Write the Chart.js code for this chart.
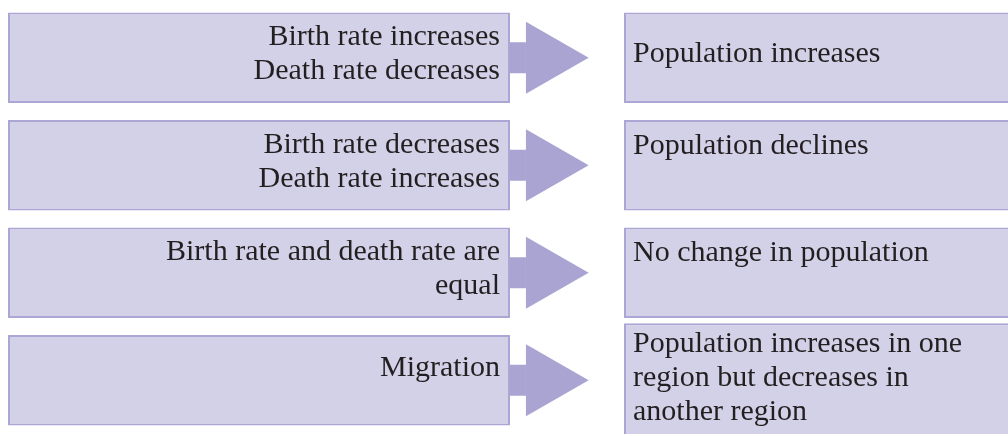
<!DOCTYPE html>
<html>
<head>
<meta charset="utf-8">
<script src="https://cdn.jsdelivr.net/npm/chart.js@4/dist/chart.umd.min.js"></script>
<style>
  html, body { margin: 0; padding: 0; background: #ffffff; }
  #wrap { width: 1008px; height: 436px; position: relative; }
</style>
</head>
<body>
<div id="wrap"><canvas id="chart"></canvas></div>
<script>
// Causes (left column) and results (right column), one row each
const rows = ['birthUp', 'birthDown', 'equal', 'migration'];
const causes = [
    ['Birth rate increases', 'Death rate decreases'],
    ['Birth rate decreases', 'Death rate increases'],
    ['Birth rate and death rate are', 'equal'],
    ['Migration']
];
const results = [
    ['Population increases'],
    ['Population declines'],
    ['No change in population'],
    ['Population increases in one', 'region but decreases in', 'another region']
];
// box spans on the 0..1008 horizontal axis
const causeSpan = [8, 510];
const resultSpan = [624, 1014];

const FILL = '#d3d1e8';
const EDGE = '#aca6d5';
const ARROW = '#a9a4d2';
const INK = '#231f20';

const last = rows.length - 1;

// result box for row i (the last one sits in its own, taller dataset)
function resultBar(chart, i) {
    return chart.getDatasetMeta(i === last ? 2 : 1).data[i];
}

// draws the arrows and the box text on top of the bars
const diagramPlugin = {
    id: 'diagram',
    afterDatasetsDraw(chart) {
        const ctx = chart.ctx;
        const left = chart.getDatasetMeta(0).data;
        ctx.save();

        left.forEach((bar, i) => {
            const r = resultBar(chart, i);
            const y = bar.y;
            const x0 = bar.x;             // right edge of cause box
            const x1 = r.base;            // left edge of result box
            const gap = x1 - x0;
            const shaftEnd = x0 + gap * 0.14;
            const tip = x0 + gap * 0.69;
            ctx.fillStyle = ARROW;
            ctx.fillRect(x0, y - 15.5, shaftEnd - x0, 31);
            ctx.beginPath();
            ctx.moveTo(shaftEnd, y - 36);
            ctx.lineTo(tip, y);
            ctx.lineTo(shaftEnd, y + 36);
            ctx.closePath();
            ctx.fill();
        });

        ctx.font = '30px "Liberation Serif", "Times New Roman", serif';
        ctx.fillStyle = INK;
        ctx.textBaseline = 'middle';
        const lh = 34;

        left.forEach((bar, i) => {
            const lines = causes[i];
            const top = bar.y - bar.height / 2;
            const y0 = lines.length > 1 ? top + 25 : top + 33;
            ctx.textAlign = 'right';
            lines.forEach((t, k) => ctx.fillText(t, bar.x - 10, y0 + k * lh));
        });

        results.forEach((lines, i) => {
            const bar = resultBar(chart, i);
            const top = bar.y - bar.height / 2;
            let y0 = i === 0 ? bar.y - 4 : top + 26;
            if (lines.length > 2) y0 = top + 21;
            ctx.textAlign = 'left';
            lines.forEach((t, k) => ctx.fillText(t, bar.base + 9, y0 + k * lh));
        });

        ctx.restore();
    }
};

const boxStyle = {
    backgroundColor: FILL,
    borderColor: EDGE,
    borderWidth: 2,
    borderSkipped: false
};

new Chart(document.getElementById('chart'), {
    type: 'bar',
    data: {
        labels: rows,
        datasets: [
            Object.assign({
                label: 'Cause',
                data: rows.map(() => causeSpan)
            }, boxStyle),
            Object.assign({
                label: 'Result',
                data: rows.map((r, i) => i === last ? null : resultSpan)
            }, boxStyle),
            Object.assign({
                label: 'Result (long)',
                data: rows.map((r, i) => i === last ? resultSpan : null),
                barPercentage: 1.06
            }, boxStyle)
        ]
    },
    options: {
        indexAxis: 'y',
        responsive: true,
        maintainAspectRatio: false,
        animation: false,
        grouped: false,
        barPercentage: 0.84,
        categoryPercentage: 1,
        layout: { padding: { top: 4, bottom: 2, left: 0, right: 0 } },
        plugins: {
            legend: { display: false },
            tooltip: { enabled: false }
        },
        scales: {
            x: { type: 'linear', min: 0, max: 1008, display: false },
            y: { display: false }
        }
    },
    plugins: [diagramPlugin]
});
</script>
</body>
</html>
